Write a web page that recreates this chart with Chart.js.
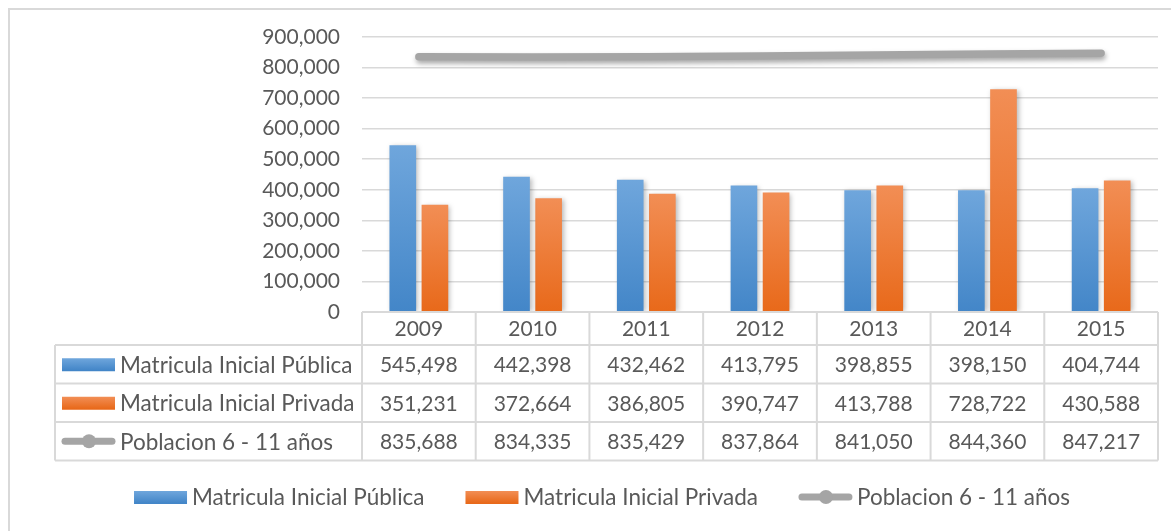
<!DOCTYPE html>
<html>
<head>
<meta charset="utf-8">
<script src="https://cdn.jsdelivr.net/npm/chart.js@4.4.1/dist/chart.umd.min.js"></script>
<style>
  html, body { margin: 0; padding: 0; background: #fff; }
  canvas { display: block; }
</style>
</head>
<body>
<canvas id="chart" width="1171" height="531"></canvas>
<script>
// datos
const years = ['2009', '2010', '2011', '2012', '2013', '2014', '2015'];
const publica = [545498, 442398, 432462, 413795, 398855, 398150, 404744];
const privada = [351231, 372664, 386805, 390747, 413788, 728722, 430588];
const poblacion = [835688, 834335, 835429, 837864, 841050, 844360, 847217];
const yMax = 900000;
const yStep = 100000;

const FONT = 'Lato, "Open Sans", sans-serif';
const TEXT = '#595959';
const LINE = '#d9d9d9';

const fmt = v => v.toLocaleString('en-US');

const blueStops = ['#6fa6dc', '#4386c8'];
const orangeStops = ['#f28e55', '#e8691a'];

function barGradient(stops) {
  return (c) => {
    const chart = c.chart;
    const area = chart.chartArea;
    if (!area || c.parsed === undefined) return stops[1];
    const top = chart.scales.y.getPixelForValue(c.parsed.y);
    const g = chart.ctx.createLinearGradient(0, top, 0, area.bottom);
    g.addColorStop(0, stops[0]);
    g.addColorStop(1, stops[1]);
    return g;
  };
}

// dibuja el icono de la serie (caja o linea con punto)
function drawIcon(ctx, ds, x, y) {
  if (ds.type === 'line') {
    ctx.save();
    ctx.strokeStyle = '#a5a5a5';
    ctx.lineWidth = 7;
    ctx.lineCap = 'round';
    ctx.beginPath();
    ctx.moveTo(x + 3, y);
    ctx.lineTo(x + 50, y);
    ctx.stroke();
    ctx.fillStyle = '#a5a5a5';
    ctx.beginPath();
    ctx.arc(x + 27, y, 7, 0, Math.PI * 2);
    ctx.fill();
    ctx.restore();
  } else {
    const g = ctx.createLinearGradient(0, y - 6, 0, y + 6);
    g.addColorStop(0, ds.stops[0]);
    g.addColorStop(1, ds.stops[1]);
    ctx.fillStyle = g;
    ctx.fillRect(x, y - 6, 53, 13);
  }
}

const framePlugin = {
  id: 'frame',
  beforeDraw(chart) {
    const ctx = chart.ctx;
    ctx.save();
    ctx.fillStyle = '#fff';
    ctx.fillRect(0, 0, chart.width, chart.height);
    ctx.strokeStyle = LINE;
    ctx.lineWidth = 2;
    ctx.beginPath();
    ctx.moveTo(9, chart.height);
    ctx.lineTo(9, 9);
    ctx.lineTo(chart.width, 9);
    ctx.stroke();
    ctx.restore();
  }
};

const shadowPlugin = {
  id: 'shadow',
  beforeDatasetDraw(chart, args) {
    const ctx = chart.ctx;
    ctx.save();
    const isLine = args.meta.type === 'line';
    ctx.shadowColor = isLine ? 'rgba(0,0,0,0.35)' : 'rgba(0,0,0,0.28)';
    ctx.shadowBlur = 5;
    ctx.shadowOffsetX = isLine ? 1 : 2;
    ctx.shadowOffsetY = isLine ? 3 : 1;
  },
  afterDatasetDraw(chart) {
    chart.ctx.restore();
  }
};

const tablePlugin = {
  id: 'dataTable',
  afterDraw(chart) {
    const ctx = chart.ctx;
    const xs = chart.scales.x;
    const area = chart.chartArea;
    const half = (xs.getPixelForValue(1) - xs.getPixelForValue(0)) / 2;
    const tableLeft = 55;
    const headH = 33, rowH = 38.5;
    const top = area.bottom;
    const rows = chart.data.datasets;
    const bottom = top + headH + rowH * rows.length;

    ctx.save();
    ctx.strokeStyle = LINE;
    ctx.lineWidth = 2;
    ctx.beginPath();
    // horizontales
    ctx.moveTo(area.left, top);
    ctx.lineTo(area.right, top);
    for (let r = 0; r <= rows.length; r++) {
      const y = top + headH + rowH * r;
      ctx.moveTo(tableLeft, y);
      ctx.lineTo(area.right, y);
    }
    // verticales
    for (let i = 0; i <= years.length; i++) {
      const x = i < years.length ? xs.getPixelForValue(i) - half : xs.getPixelForValue(years.length - 1) + half;
      ctx.moveTo(x, top);
      ctx.lineTo(x, bottom);
    }
    ctx.moveTo(tableLeft, top + headH);
    ctx.lineTo(tableLeft, bottom);
    ctx.stroke();

    ctx.fillStyle = TEXT;
    ctx.font = '21px ' + FONT;
    ctx.textAlign = 'center';
    ctx.textBaseline = 'middle';
    years.forEach((yr, i) => {
      ctx.fillText(yr, xs.getPixelForValue(i), top + headH / 2 + 1);
    });
    rows.forEach((ds, r) => {
      const cy = top + headH + rowH * r + rowH / 2 + 1;
      ctx.font = '21px ' + FONT;
      ds.data.forEach((v, i) => {
        ctx.fillText(fmt(v), xs.getPixelForValue(i), cy);
      });
      ctx.save();
      ctx.textAlign = 'left';
      ctx.font = '22.5px ' + FONT;
      drawIcon(ctx, ds, 62, cy - 1);
      ctx.fillStyle = TEXT;
      ctx.fillText(ds.label, 120, cy);
      ctx.restore();
    });

    // leyenda inferior
    const ly = 497;
    const gapIcon = 5, gapItem = 41, iconW = 53;
    ctx.font = '22.5px ' + FONT;
    const widths = rows.map(ds => iconW + gapIcon + ctx.measureText(ds.label).width);
    const total = widths.reduce((a, b) => a + b, 0) + gapItem * (rows.length - 1);
    let lx = 602 - total / 2;
    ctx.textAlign = 'left';
    rows.forEach((ds, r) => {
      drawIcon(ctx, ds, lx, ly);
      ctx.fillStyle = TEXT;
      ctx.fillText(ds.label, lx + iconW + gapIcon, ly + 1);
      lx += widths[r] + gapItem;
    });
    ctx.restore();
  }
};

new Chart(document.getElementById('chart'), {
  data: {
    labels: years,
    datasets: [
      {
        type: 'bar',
        label: 'Matricula Inicial Pública',
        data: publica,
        stops: blueStops,
        backgroundColor: barGradient(blueStops),
        categoryPercentage: 0.565,
        barPercentage: 0.83,
        order: 1
      },
      {
        type: 'bar',
        label: 'Matricula Inicial Privada',
        data: privada,
        stops: orangeStops,
        backgroundColor: barGradient(orangeStops),
        categoryPercentage: 0.565,
        barPercentage: 0.83,
        order: 1
      },
      {
        type: 'line',
        label: 'Poblacion 6 - 11 años',
        data: poblacion,
        borderColor: '#a5a5a5',
        borderWidth: 7.5,
        borderCapStyle: 'round',
        pointRadius: 0,
        tension: 0,
        order: 0
      }
    ]
  },
  options: {
    responsive: false,
    animation: false,
    events: [],
    layout: { padding: { top: 37, right: 13, bottom: 0, left: 0 } },
    plugins: {
      legend: { display: false },
      tooltip: { enabled: false }
    },
    scales: {
      x: {
        ticks: { display: false },
        grid: { display: false },
        border: { display: false },
        afterFit: (axis) => { axis.height = 219; }
      },
      y: {
        min: 0,
        max: yMax,
        ticks: {
          stepSize: yStep,
          padding: 22,
          color: TEXT,
          font: { family: FONT, size: 21 },
          callback: (v) => fmt(v)
        },
        grid: { color: LINE, lineWidth: 1.5, drawTicks: false },
        border: { display: false },
        afterFit: (axis) => { axis.width = 362; }
      }
    }
  },
  plugins: [framePlugin, shadowPlugin, tablePlugin]
});
</script>
</body>
</html>
